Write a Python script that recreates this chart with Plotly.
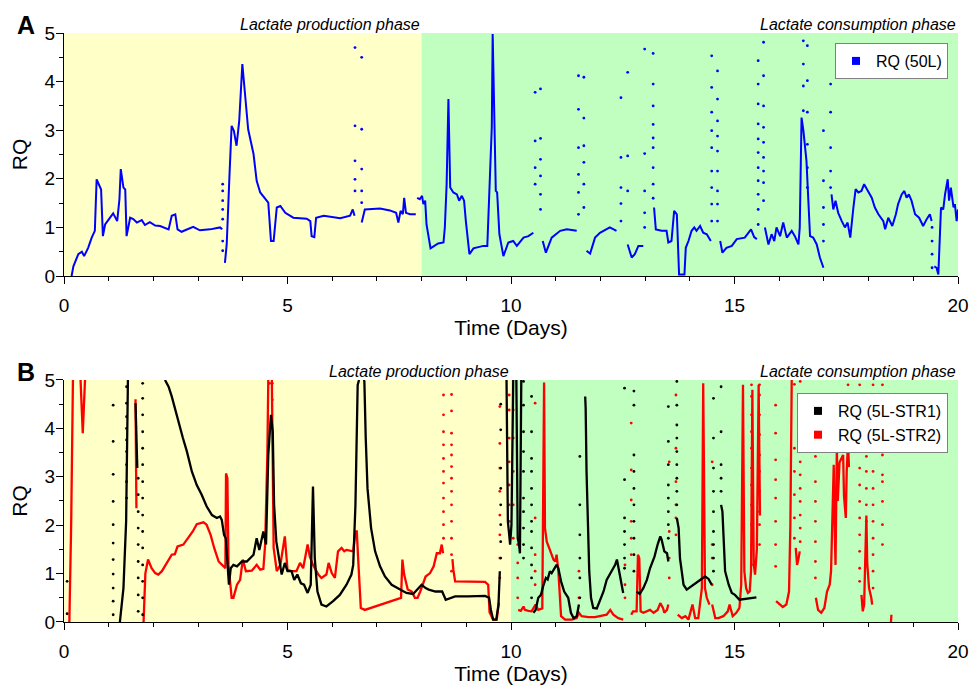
import plotly.graph_objects as go

# ---------------- data (time in days, RQ) ----------------
# Panel A: RQ (50L) continuous trace; None = gap
rq50_line = [
    (0.17,0.0),(0.21,0.2),(0.32,0.45),(0.4,0.5),(0.45,0.41),(0.54,0.58),(0.62,0.79),(0.69,0.93),(0.73,1.99),
    (0.79,1.85),(0.83,1.78),(0.87,0.82),(0.92,1.06),(1.03,1.2),(1.1,1.29),(1.19,1.13),(1.24,1.58),(1.27,2.2),
    (1.33,1.82),(1.37,1.78),(1.4,0.82),(1.48,1.2),(1.55,1.17),(1.63,1.1),(1.74,1.15),(1.81,1.05),(1.92,1.11),
    (2.04,1.04),(2.15,1.03),(2.34,0.96),(2.41,1.24),(2.49,1.27),(2.54,0.96),(2.63,0.91),(2.89,1.01),(3.04,0.94),
    (3.27,0.96),(3.49,1.0),(3.54,0.96),None,
    (3.6,0.27),(3.64,0.65),(3.7,2.03),(3.75,3.09),(3.8,2.99),(3.86,2.68),(3.92,3.19),(3.97,4.09),(3.99,4.36),
    (4.05,3.74),(4.12,3.02),(4.24,2.51),(4.31,1.96),(4.39,1.72),(4.5,1.58),(4.57,1.51),(4.63,0.72),(4.69,0.72),
    (4.76,1.41),(4.84,1.44),(4.95,1.3),(5.13,1.2),(5.43,1.18),(5.51,1.13),(5.54,0.82),(5.6,0.8),(5.64,1.2),
    (5.81,1.24),(6.18,1.19),(6.4,1.24),(6.46,1.37),(6.5,1.24),None,
    (6.66,1.1),(6.73,1.37),(7.07,1.39),(7.29,1.35),(7.43,1.3),(7.48,1.1),(7.53,1.34),(7.58,1.27),(7.61,1.61),
    (7.65,1.3),(7.74,1.27),(7.87,1.27),None,
    (7.9,1.61),(7.96,1.58),(8.01,1.65),(8.04,1.48),(8.08,1.55),(8.11,1.06),(8.2,0.57),(8.37,0.67),(8.49,0.69),
    (8.52,1.0),(8.56,1.89),(8.6,3.64),(8.64,1.82),(8.71,1.72),(8.79,1.68),(8.84,1.55),(8.9,1.65),(8.95,1.55),
    (8.99,1.13),(9.07,0.45),(9.16,0.57),(9.38,0.62),(9.47,0.62),(9.52,2.03),(9.57,3.06),(9.59,4.98),(9.63,3.06),
    (9.66,1.75),(9.69,1.72),(9.74,0.86),(9.83,0.41),(9.94,0.69),(10.05,0.72),(10.13,0.62),(10.28,0.79),
    (10.39,0.82),(10.5,0.89),None,
    (10.71,0.72),(10.78,0.48),(10.91,0.79),(11.1,0.93),(11.25,0.96),(11.47,0.93),None,
    (11.69,0.52),(11.77,0.46),(11.88,0.79),(11.99,0.89),(12.21,1.0),(12.36,0.93),None,
    (12.61,0.65),(12.7,0.38),(12.77,0.45),(12.85,0.62),(12.96,0.62),None,
    (13.2,1.41),(13.24,0.96),(13.37,0.93),(13.48,0.93),(13.52,0.69),(13.59,0.72),(13.65,1.34),(13.71,1.27),
    (13.73,0.79),(13.76,0.03),(13.88,0.03),(13.91,0.58),(13.97,0.72),(14.04,0.93),(14.1,1.0),(14.15,0.93),
    (14.23,1.03),(14.3,0.89),(14.38,0.86),(14.47,0.72),None,
    (14.68,0.72),(14.73,0.48),(14.82,0.58),(14.94,0.62),(15.05,0.76),(15.23,0.79),(15.37,0.96),(15.44,0.8),
    (15.5,0.76),None,
    (15.68,1.0),(15.76,0.65),(15.83,0.86),(15.89,0.72),(15.94,1.0),(16.02,0.82),(16.09,1.1),(16.17,0.79),
    (16.28,0.93),(16.35,0.82),(16.43,0.65),(16.46,1.0),(16.5,3.26),(16.54,3.0),(16.61,2.37),(16.65,1.41),
    (16.69,0.82),(16.76,0.79),(16.84,0.65),(16.91,0.38),(16.99,0.17),None,
    (17.17,1.68),(17.21,1.37),(17.26,1.55),(17.32,1.3),(17.4,1.13),(17.47,1.0),(17.53,1.1),(17.59,0.79),
    (17.66,1.41),(17.71,1.79),(17.77,1.72),(17.84,1.75),(17.9,1.89),(17.99,1.75),(18.07,1.61),(18.14,1.41),
    (18.22,1.27),(18.33,1.13),(18.37,0.96),(18.44,1.2),(18.53,1.03),(18.61,1.27),(18.66,1.48),(18.74,1.68),
    (18.8,1.75),(18.85,1.61),(18.9,1.68),(18.96,1.55),(19.04,1.27),(19.13,1.2),(19.22,1.03),(19.3,1.17),
    (19.37,1.27),(19.41,1.13),None,
    (19.47,0.2),(19.52,0.17),(19.56,0.03),(19.6,1.0),(19.62,1.41),(19.67,1.37),(19.71,1.68),(19.77,1.99),
    (19.8,1.55),(19.84,1.82),(19.9,1.41),(19.93,1.48),(19.97,1.13),(20.0,1.37),
]
# Panel A: isolated dots, (time, [RQ values])
rq50_dots = [
    (3.55,[1.89,1.75,1.55,1.37,1.17,0.72,0.52]),
    (6.51,[4.7,3.09,2.37,1.99,1.75]),
    (6.66,[4.5,3.02,2.2,1.75,1.51]),
    (10.54,[3.78,2.78,2.23,1.89]),
    (10.66,[3.85,2.83,2.4,2.06,1.68,1.37]),
    (11.51,[4.12,3.43,2.64,2.09,1.72,1.27]),
    (11.63,[4.09,3.25,2.68,2.34,1.89,1.41]),
    (12.46,[3.67,2.44,1.82,1.49,1.13]),
    (12.61,[4.19,2.47,1.75]),
    (12.99,[4.67,2.52,1.75,1.3,1.0]),
    (13.18,[4.58,3.95,3.5,3.12,2.84,2.64,2.23,1.89,1.6]),
    (14.49,[4.53,3.88,3.37,2.99,2.64,2.16,1.82,1.48,1.13]),
    (14.62,[4.22,3.64,3.19,2.88,2.57,2.16,1.75,1.48,1.13]),
    (15.53,[4.43,3.95,3.54,3.13,2.82,2.54,2.23,1.96,1.68,1.37,1.06]),
    (15.65,[4.81,4.12,3.5,3.06,2.75,2.44,2.16,1.92,1.55]),
    (16.54,[4.84,4.36,3.91,3.4]),
    (16.63,[4.74,4.02,3.37,2.71,2.23,1.82]),
    (16.99,[2.99,1.96,1.41,1.06,0.72]),
    (17.15,[3.95,3.37,2.64,2.16,1.82]),
    (19.42,[1.0,0.72,0.45,0.17]),
]

# Panel B: RQ (5L-STR1), black
str1_line = [
    (1.25,0.0),(1.33,0.7),(1.39,2.08),(1.43,5.0),None,
    (1.6,4.52),(1.62,3.9),(1.64,3.18),None,
    (2.26,5.0),(2.34,4.86),(2.41,4.66),(2.49,4.38),(2.56,4.1),(2.66,3.8),(2.75,3.52),(2.86,3.11),(2.97,2.83),
    (3.08,2.63),(3.19,2.39),(3.31,2.21),(3.42,2.15),(3.49,2.18),(3.53,2.11),(3.58,1.8),(3.62,1.73),(3.66,1.11),
    (3.69,0.77),(3.73,1.11),(3.79,1.18),(3.87,1.15),(3.98,1.25),(4.09,1.25),(4.16,1.32),(4.24,1.39),(4.31,1.73),
    (4.37,1.49),(4.46,1.87),(4.52,1.6),(4.57,3.45),(4.63,4.28),(4.67,3.93),(4.7,2.42),(4.75,1.66),(4.8,1.35),
    (4.87,0.98),(4.94,1.22),(5.0,1.05),(5.09,1.05),(5.15,0.87),(5.22,0.98),(5.3,0.8),(5.37,0.77),(5.45,0.6),
    (5.52,0.77),(5.57,2.8),(5.61,1.32),(5.67,0.63),(5.76,0.36),(5.87,0.32),(6.02,0.43),(6.17,0.56),(6.32,0.77),
    (6.43,0.98),(6.47,1.18),(6.52,2.42),(6.57,4.9),(6.6,5.0),None,
    (6.71,5.0),(6.72,4.97),(6.75,3.8),(6.79,2.76),(6.87,1.94),(6.96,1.46),(7.07,1.15),(7.18,0.94),(7.33,0.77),
    (7.51,0.67),(7.66,0.6),(7.81,0.58),(7.93,0.7),(8.0,0.77),(8.09,0.7),(8.16,0.67),(8.31,0.63),(8.46,0.63),
    (8.54,0.46),(8.75,0.53),(9.04,0.53),(9.42,0.54),(9.51,0.5),(9.55,0.25),(9.6,0.05),(9.67,0.05),(9.72,0.36),
    (9.75,1.05),None,
    (9.9,5.0),(9.93,2.08),(9.96,1.8),(9.98,1.6),(10.01,2.0),(10.05,5.0),None,
    (10.12,5.0),(10.15,1.73),(10.18,1.6),(10.2,1.42),(10.23,5.0),None,
    (10.5,0.19),(10.55,0.25),(10.61,0.5),(10.67,0.56),(10.72,0.74),(10.78,0.91),(10.82,0.88),(10.87,1.05),
    (10.91,1.01),(10.97,1.11),(11.02,1.18),(11.06,1.11),(11.12,0.84),(11.19,0.63),(11.28,0.5),(11.34,0.19),
    (11.4,0.08),(11.47,0.12),(11.52,0.36),None,
    (11.66,4.66),(11.67,4.42),(11.69,3.11),(11.72,2.08),(11.75,1.05),(11.79,0.5),(11.84,0.29),(11.92,0.28),
    (11.99,0.43),(12.07,0.63),(12.14,0.87),(12.24,1.05),(12.33,1.18),(12.37,1.29),(12.4,1.15),(12.46,0.91),
    (12.51,0.6),None,
    (12.81,0.63),(12.88,0.58),(12.96,0.7),(13.04,0.87),(13.11,1.11),(13.21,1.35),(13.28,1.6),(13.34,1.77),
    (13.37,1.7),(13.43,1.46),(13.49,1.42),(13.52,1.25),None,
    (13.71,2.15),(13.75,1.94),(13.78,1.32),(13.86,0.77),(13.93,0.67),(14.04,0.74),(14.19,0.84),(14.34,0.94),
    (14.42,0.89),(14.49,0.77),None,
    (14.7,2.42),(14.73,2.28),(14.79,1.05),(14.87,0.77),(14.94,0.6),(15.01,0.56),(15.11,0.46),(15.26,0.48),
    (15.41,0.5),(15.49,0.51),
]
str1_dots = [
    (0.07,[0.84,0.17]),
    (1.1,[4.48,3.73,3.05,2.49,2.01,1.63,1.29,0.99,0.7,0.43,0.15]),
    (1.4,[4.86,4.52,4.24,4.0,3.76,3.52,3.25,2.9,2.56]),
    (1.66,[2.97,2.63,2.28,1.94,1.6,1.25,0.91,0.56,0.22]),
    (1.76,[4.93,4.62,4.28,3.93,3.59,3.25,2.9,2.56,2.21,1.87,1.53,1.18,0.84,0.5,0.15]),
    (9.77,[1.32,1.66,2.01,2.42,2.76,3.18,3.97,4.5]),
    (10.28,[4.97,4.48,3.93,3.52,3.11,2.56,2.28,1.94,1.6,1.32]),
    (10.46,[4.66,3.93,3.38,3.11,2.76,2.42,2.08,1.87,1.53,1.18,0.91,0.5]),
    (11.54,[3.42,2.42,1.8,1.32,0.91,0.5]),
    (12.54,[4.83,2.94,2.15,1.87,1.6,1.32,1.11]),
    (12.75,[4.77,4.48,3.45,3.11,2.76,2.42,2.08,1.73,1.39,1.05]),
    (13.52,[4.45,3.73,3.25,2.83,2.56,2.28,2.01,1.73]),
    (13.71,[4.97,4.48,4.07,3.8,3.52,3.25,2.97,2.7,2.42]),
    (14.53,[4.62,3.8,3.18,2.7,2.28,1.87,1.6,1.32,1.05]),
    (14.7,[4.86,3.93,3.25,2.97,2.7]),
]

# Panel B: RQ (5L-STR2), red
str2_line = [
    (0.12,0.0),(0.16,2.0),(0.2,5.0),None,
    (0.37,5.0),(0.42,3.9),(0.47,5.0),None,
    (1.6,4.6),(1.61,3.5),(1.62,2.35),None,
    (1.78,0.0),(1.82,1.0),(1.88,1.29),(1.96,1.11),(2.04,1.01),(2.11,0.98),(2.19,1.05),(2.3,1.22),(2.41,1.39),
    (2.48,1.4),(2.54,1.56),(2.67,1.6),(2.78,1.73),(2.88,1.87),(2.97,2.02),(3.12,2.06),(3.19,2.01),(3.28,1.8),
    (3.36,1.53),(3.46,1.25),(3.57,1.15),(3.61,1.11),(3.625,3.07),(3.655,2.97),(3.68,1.18),(3.72,0.7),(3.75,0.5),
    (3.79,0.5),(3.87,0.77),(3.94,0.87),(4.0,1.29),(4.07,1.05),(4.2,1.06),(4.31,1.18),(4.39,1.08),(4.46,1.1),
    (4.5,1.6),(4.55,3.5),(4.57,5.0),None,
    (4.65,5.0),(4.69,1.53),(4.76,1.05),(4.84,1.18),(4.94,1.77),(5.0,1.08),(5.09,1.05),(5.2,1.05),(5.28,1.22),
    (5.35,1.11),(5.45,1.6),(5.5,1.35),(5.57,1.18),(5.69,0.98),(5.76,0.91),(5.87,0.98),(5.92,1.22),(5.99,1.01),
    (6.06,0.91),(6.13,1.46),(6.21,1.53),(6.27,1.46),(6.32,1.49),(6.47,1.46),(6.52,1.87),(6.55,1.87),(6.58,1.32),
    (6.64,0.29),(6.73,0.25),(6.96,0.32),(7.18,0.39),(7.4,0.46),(7.54,0.5),(7.57,1.29),(7.61,0.98),(7.69,0.67),
    (7.78,0.63),(7.85,0.5),(7.91,0.5),(7.97,0.63),(8.09,0.94),(8.19,1.01),(8.27,1.15),(8.34,1.42),(8.41,1.42),
    (8.45,1.6),(8.48,1.42),None,
    (8.69,1.3),(8.71,1.08),(8.75,0.84),(8.9,0.84),(9.12,0.84),(9.42,0.83),(9.49,0.77),(9.52,0.2),(9.6,0.05),
    (9.68,0.05),(9.73,0.4),None,
    (10.16,0.25),(10.22,0.23),(10.28,0.32),(10.31,0.25),(10.39,0.23),(10.46,0.22),(10.55,0.36),(10.61,0.25),
    (10.7,0.28),(10.74,4.95),(10.76,1.94),(10.8,1.66),(10.87,1.49),(10.95,1.29),(10.99,1.25),(11.02,1.39),
    (11.06,1.05),(11.12,0.12),(11.21,0.05),(11.36,0.05),(11.47,0.08),(11.52,0.19),(11.58,0.12),(11.73,0.1),
    (11.88,0.1),(12.03,0.12),(12.14,0.15),(12.22,0.25),(12.29,0.15),(12.4,0.08),(12.51,0.05),None,
    (12.69,0.15),(12.73,0.22),(12.81,0.22),(12.84,1.39),(12.87,1.32),(12.9,0.22),(12.96,0.19),(13.04,0.22),
    (13.11,0.25),(13.19,0.19),(13.28,0.25),(13.34,0.39),(13.4,0.29),(13.43,0.19),(13.49,0.25),(13.52,0.36),None,
    (13.73,0.15),(13.82,0.08),(13.9,0.12),(13.97,0.05),(14.06,0.36),(14.12,0.08),(14.19,0.08),(14.23,0.36),
    (14.27,0.7),(14.3,4.93),(14.34,0.7),(14.38,0.5),(14.44,0.36),None,
    (14.5,0.36),(14.57,0.08),(14.64,0.08),(14.75,0.12),(14.85,0.22),(14.89,0.36),(14.96,0.12),(15.04,0.19),
    (15.11,0.29),(15.15,0.77),(15.19,4.9),(15.22,1.05),(15.26,0.7),(15.3,0.6),(15.34,0.63),(15.37,1.05),
    (15.4,4.8),(15.43,1.2),(15.46,0.98),(15.5,1.5),(15.54,4.9),(15.57,2.2),None,
    (15.93,0.43),(16.01,0.36),(16.08,0.31),(16.16,0.36),(16.22,0.63),(16.25,2.0),(16.28,5.0),None,
    (16.37,1.53),(16.4,1.18),(16.43,1.3),(16.46,1.46),None,
    (16.82,0.5),(16.87,0.25),(16.94,0.19),(17.01,0.29),(17.07,0.63),(17.13,0.77),(17.16,1.05),(17.19,2.08),
    (17.22,3.25),(17.24,2.0),(17.26,1.18),(17.29,3.62),(17.31,2.5),(17.35,3.3),(17.43,3.45),(17.45,2.6),
    (17.49,2.15),(17.51,3.1),(17.54,3.73),(17.56,3.2),None,
    (17.84,0.56),(17.87,0.22),(17.9,0.36),(17.92,1.32),(17.95,2.2),(17.97,1.2),(18.01,0.7),(18.06,0.5),
    (18.08,0.36),None,
    (18.5,0.0),(18.51,0.15),
]
str2_dots = [
    (4.6,[4.93]),(4.66,[4.93,4.59]),
    (8.49,[4.69,4.28,3.93,3.66,3.38,3.11,2.87,2.56,2.28,2.01,1.73]),
    (8.67,[4.7,4.36,3.9,3.66,3.45,3.21,2.97,2.7,2.42,2.08,1.73,1.39,1.05]),
    (9.75,[4.45,3.69,3.18,2.7,2.21,1.8,1.32,0.91]),
    (9.96,[4.69,4.38,3.8,3.31,2.83,2.42,2.08]),
    (10.05,[4.38,3.8,3.11,2.42,1.73]),
    (10.15,[1.6,1.22,0.91,0.5]),
    (10.54,[4.52,2.15,1.39,1.05,0.77]),
    (11.52,[1.05,0.5]),
    (12.55,[1.18,0.77,0.5]),
    (12.69,[4.11,3.14,2.52,2.08,1.73,1.39]),
    (13.54,[3.31,1.87,1.32,0.91]),
    (13.69,[4.69,3.59,2.9,2.42,2.15,1.8]),
    (14.5,[3.31,1.6,1.32,0.77]),
    (15.38,[4.9,4.66,4.28,3.93,3.59,3.18,2.83,2.42,2.01,1.6,1.18]),
    (15.56,[4.9,4.69,4.28,3.87,3.45,3.11,2.7,2.28,2.01,1.6]),
    (15.92,[4.48,3.9,3.35,2.94,2.56,2.08,1.6,1.15]),
    (16.34,[4.91,3.59,3.11,2.63,2.15,1.73]),
    (16.47,[4.97,3.59,3.31,3.04,2.76,2.49,2.21,1.94,1.66]),
    (16.81,[3.42,2.9,2.49,2.08,1.66,1.25,0.91]),
    (17.54,[4.9,4.35,3.8]),
    (17.8,[4.9,3.18,2.83,2.49,2.15,1.8,1.46,1.11,0.84]),
    (17.95,[3.69,3.42,3.11,2.76,2.42,2.08]),
    (18.1,[4.9,3.11,2.76,2.42,2.08,1.73,1.39,1.05,0.7]),
    (18.31,[4.9,4.28,3.73,3.45,3.04,2.9,2.49,2.01,1.6]),
]

# phases: (start, end, colour) per panel
phases_a = [(0, 8, "rgb(255,255,200)"), (8, 20, "rgb(193,255,193)")]
phases_b = [(0, 10, "rgb(255,255,200)"), (10, 20, "rgb(193,255,193)")]

# ---------------- helpers ----------------
def unzip(pts):
    xs, ys = [], []
    for p in pts:
        if p is None:
            xs.append(None); ys.append(None)
        else:
            xs.append(p[0]); ys.append(p[1])
    return xs, ys

def expand(cols):
    xs, ys = [], []
    for t, vals in cols:
        for v in vals:
            xs.append(t); ys.append(v)
    return xs, ys

SANS = "Liberation Sans, Arial, sans-serif"

fig = go.Figure()

def add_series(pts, dots, color, xa, ya, lw):
    x, y = unzip(pts)
    fig.add_trace(go.Scatter(x=x, y=y, mode="lines", line=dict(color=color, width=lw),
                             connectgaps=False, showlegend=False, xaxis=xa, yaxis=ya, hoverinfo="skip"))
    dx, dy = expand(dots)
    fig.add_trace(go.Scatter(x=dx, y=dy, mode="markers", marker=dict(color=color, size=2.8),
                             showlegend=False, xaxis=xa, yaxis=ya, hoverinfo="skip"))

add_series(rq50_line, rq50_dots, "#0000FF", "x", "y", 2)
add_series(str2_line, str2_dots, "#FF0000", "x2", "y2", 2.3)
add_series(str1_line, str1_dots, "#000000", "x2", "y2", 2.3)

# legend entries
fig.add_trace(go.Scatter(x=[None], y=[None], mode="markers", name="RQ (50L)",
                         marker=dict(symbol="square", size=8, color="#0000FF"),
                         legend="legend", xaxis="x", yaxis="y"))
fig.add_trace(go.Scatter(x=[None], y=[None], mode="markers", name="RQ (5L-STR1)",
                         marker=dict(symbol="square", size=8, color="#000000"),
                         legend="legend2", xaxis="x2", yaxis="y2"))
fig.add_trace(go.Scatter(x=[None], y=[None], mode="markers", name="RQ (5L-STR2)",
                         marker=dict(symbol="square", size=8, color="#FF0000"),
                         legend="legend2", xaxis="x2", yaxis="y2"))

shapes = []
for (a, b, c) in phases_a:
    shapes.append(dict(type="rect", xref="x", yref="y", x0=a, x1=b, y0=0, y1=5,
                       fillcolor=c, line=dict(width=0), layer="below"))
for (a, b, c) in phases_b:
    shapes.append(dict(type="rect", xref="x2", yref="y2", x0=a, x1=b, y0=0, y1=5,
                       fillcolor=c, line=dict(width=0), layer="below"))

def xax(anchor):
    return dict(anchor=anchor, domain=[0, 1], range=[0, 20], tick0=0, dtick=5,
                ticks="outside", ticklen=7, tickwidth=1, tickcolor="black", ticklabelstandoff=5,
                showline=True, linecolor="black", linewidth=1, showgrid=False, zeroline=False,
                minor=dict(dtick=1, ticks="outside", ticklen=4, tickwidth=1, tickcolor="black", showgrid=False),
                tickfont=dict(family=SANS, size=19, color="black"), automargin=False,
                title=dict(text="Time (Days)", font=dict(family=SANS, size=21, color="black"), standoff=5))

def yax(anchor, dom):
    return dict(anchor=anchor, domain=dom, range=[0, 5], tick0=0, dtick=1,
                ticks="outside", ticklen=7, tickwidth=1, tickcolor="black", ticklabelstandoff=-3,
                showline=True, linecolor="black", linewidth=1, showgrid=False, zeroline=False,
                minor=dict(dtick=0.5, ticks="outside", ticklen=4, tickwidth=1, tickcolor="black", showgrid=False),
                tickfont=dict(family=SANS, size=19, color="black"), automargin=False,
                title=dict(text="RQ", font=dict(family=SANS, size=21, color="black"), standoff=11))

legend_style = dict(bgcolor="white", bordercolor="#808080", borderwidth=1,
                    font=dict(family=SANS, size=16, color="black"),
                    xanchor="right", yanchor="top", tracegroupgap=0)

ann_font = dict(family=SANS, size=16, color="black")
annotations = [
    dict(text="<i>Lactate production phase</i>", xref="x", yref="y domain", x=8, y=1,
         xanchor="right", yanchor="bottom", showarrow=False, font=ann_font, yshift=-2),
    dict(text="<i>Lactate consumption phase</i>", xref="x", yref="y domain", x=20, y=1,
         xanchor="right", yanchor="bottom", showarrow=False, font=ann_font, yshift=-2),
    dict(text="<i>Lactate production phase</i>", xref="x2", yref="y2 domain", x=10, y=1,
         xanchor="right", yanchor="bottom", showarrow=False, font=ann_font, yshift=-2),
    dict(text="<i>Lactate consumption phase</i>", xref="x2", yref="y2 domain", x=20, y=1,
         xanchor="right", yanchor="bottom", showarrow=False, font=ann_font, yshift=-2),
    dict(text="<b>A</b>", xref="paper", yref="paper", x=-0.042, y=1.0, xanchor="center", yanchor="bottom",
         showarrow=False, font=dict(family=SANS, size=25, color="black"), yshift=-8),
    dict(text="<b>B</b>", xref="paper", yref="paper", x=-0.042, y=0.4109, xanchor="center", yanchor="bottom",
         showarrow=False, font=dict(family=SANS, size=25, color="black"), yshift=-8),
]

# page body has an 8px margin: size/margins chosen so the plot areas land at
# x 64-958 px and y 33-276 / 380-622 px in the 979x687 window
fig.update_layout(
    template="none",
    width=971, height=679,
    margin=dict(l=56, r=21, t=25, b=65),
    paper_bgcolor="white", plot_bgcolor="white",
    xaxis=xax("y"), yaxis=yax("x", [0.5874, 1.0]),
    xaxis2=xax("y2"), yaxis2=yax("x2", [0.0, 0.4109]),
    shapes=shapes, annotations=annotations,
    legend=dict(x=0.9888, y=0.983, **legend_style),
    legend2=dict(x=0.9888, y=0.3888, **legend_style),
    showlegend=True,
)

fig.write_html("out.html")
